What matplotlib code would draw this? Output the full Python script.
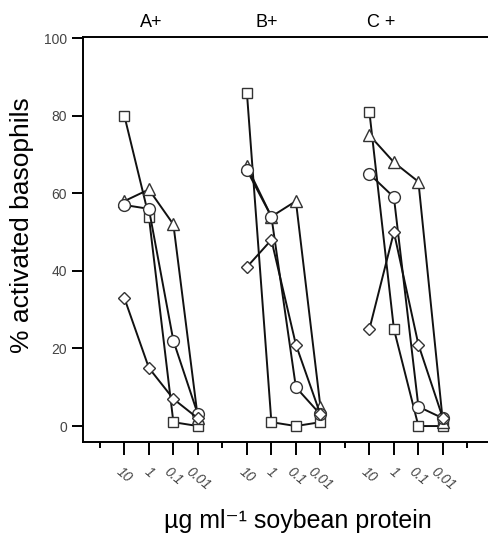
import matplotlib.pyplot as plt

plt.rcParams['font.family'] = ['Liberation Sans', 'DejaVu Sans']

# allergen groups and soybean protein dilutions (ug/ml)
groups = ["A+", "B+", "C +"]
doses = ["10", "1", "0.1", "0.01"]

# % activated basophils per group, one list per patient (10 -> 0.01)
square = [[80, 54, 1, 0], [86, 1, 0, 1], [81, 25, 0, 0]]
triangle = [[58, 61, 52, 2], [67, 54, 58, 5], [75, 68, 63, 1]]
circle = [[57, 56, 22, 3], [66, 54, 10, 3], [65, 59, 5, 2]]
diamond = [[33, 15, 7, 2], [41, 48, 21, 3], [25, 50, 21, 2]]

series = [(square, "s", 7), (triangle, "^", 9), (circle, "o", 8.5), (diamond, "D", 6)]
title_x = [2.1, 6.8, 11.5]

fig = plt.figure(figsize=(4.88, 5.37), dpi=100)
ax = fig.add_axes([0.170, 0.177, 0.830, 0.754])

for gi in range(len(groups)):
    xs = [1 + 5 * gi + k for k in range(len(doses))]
    for data, marker, ms in series:
        ax.plot(xs, data[gi], color="#111111", lw=1.4, marker=marker, ms=ms,
                mfc="white", mec="#333333", mew=1.0, zorder=3)
    ax.text(title_x[gi], 101.8, groups[gi], ha="center", va="bottom", fontsize=13)

major = [1 + 5 * g + k for g in range(len(groups)) for k in range(len(doses))]
ax.set_xticks(major)
ax.set_xticklabels(doses * len(groups), rotation=-40, ha="center", fontsize=10,
                   color="#444444", style="italic")
ax.set_xticks([0, 5, 10, 15], minor=True)
ax.tick_params(axis="x", which="major", length=9, width=1.4, pad=7)
ax.tick_params(axis="x", which="minor", length=4, width=1.4)

ax.set_yticks([0, 20, 40, 60, 80, 100])
ax.tick_params(axis="y", length=8, width=1.4, labelsize=10, labelcolor="#444444")

ax.set_xlim(-0.69, 15.84)
ax.set_ylim(-4.1, 100.3)

for side in ["left", "bottom", "top"]:
    ax.spines[side].set_linewidth(1.4)
ax.spines["right"].set_visible(False)

ax.set_ylabel("% activated basophils", fontsize=19)
ax.yaxis.set_label_coords(-0.122, 0.536)
ax.set_xlabel("µg ml⁻¹ soybean protein", fontsize=18)
ax.xaxis.set_label_coords(0.531, -0.165)

fig.savefig("out.png", dpi=100)
